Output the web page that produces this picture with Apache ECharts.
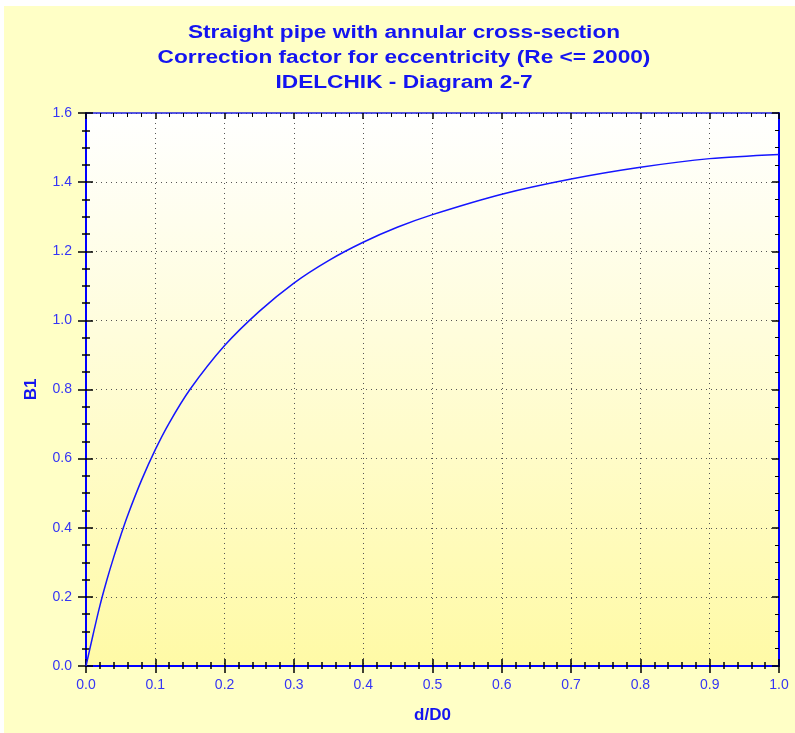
<!DOCTYPE html>
<html>
<head>
<meta charset="utf-8">
<script src="https://cdn.jsdelivr.net/npm/echarts@6/dist/echarts.min.js"></script>
<style>
html,body{margin:0;padding:0;background:#ffffff;width:795px;height:733px;overflow:hidden;}
#chart{position:absolute;left:4px;top:6px;width:791px;height:727px;background:#FFFFC6;}
</style>
</head>
<body>
<div id="chart"></div>
<script>
// d/D0 values
const xValues = [0, 0.01, 0.02, 0.03, 0.04, 0.05, 0.06, 0.08, 0.1, 0.12, 0.15, 0.2, 0.25, 0.3, 0.35, 0.4, 0.45, 0.5, 0.6, 0.7, 0.8, 0.9, 1.0];
// B1 values
const b1Values = [0, 0.089, 0.174, 0.248, 0.315, 0.377, 0.435, 0.537, 0.626, 0.703, 0.800, 0.927, 1.026, 1.108, 1.173, 1.226, 1.270, 1.306, 1.365, 1.409, 1.443, 1.468, 1.480];
const titleLines = ["Straight pipe with annular cross-section", "Correction factor for eccentricity (Re <= 2000)", "IDELCHIK - Diagram 2-7"];
const xAxisName = "d/D0";
const yAxisName = "B1";

const chart = echarts.init(document.getElementById('chart'), null, {renderer: 'canvas'});
const blue = '#1414F0';
const labelBlue = '#3535F5';
const font = 'Liberation Sans, Arial, sans-serif';
const gridLine = {show: true, lineStyle: {color: '#555555', width: 1, type: [1, 4]}};

function xa(opts) {
  return Object.assign({
    type: 'value', min: 0, max: 1, interval: 0.1, gridIndex: 0,
    axisLabel: {show: false}, splitLine: {show: false}, axisLine: {show: false},
    axisTick: {show: false}, minorTick: {show: false}
  }, opts);
}
function ya(opts) {
  return Object.assign({
    type: 'value', min: 0, max: 1.6, interval: 0.2, gridIndex: 0,
    axisLabel: {show: false}, splitLine: {show: false}, axisLine: {show: false},
    axisTick: {show: false}, minorTick: {show: false}
  }, opts);
}

const data = xValues.map((x, i) => [x, b1Values[i]]);

const titleGraphics = titleLines.map((t, i) => ({
  type: 'text', x: 400, y: 27 + i * 25, scaleX: 1.26, scaleY: 1,
  style: {text: t, align: 'center', verticalAlign: 'middle',
    font: 'bold 18px ' + font, fill: blue}
}));

chart.setOption({
  animation: false,
  graphic: titleGraphics,
  grid: {
    left: 82, top: 107, width: 693, height: 553, show: true, borderWidth: 0,
    backgroundColor: {type: 'linear', x: 0, y: 0, x2: 0, y2: 1,
      colorStops: [{offset: 0, color: '#FFFFFF'}, {offset: 1, color: '#FFFAA6'}]}
  },
  xAxis: [
    xa({position: 'bottom',
      name: xAxisName, nameLocation: 'middle', nameGap: 41,
      nameTextStyle: {fontFamily: font, fontSize: 17, fontWeight: 'bold', color: blue},
      axisLine: {show: true, onZero: false, lineStyle: {color: '#0000FF', width: 2}},
      axisTick: {show: true, inside: true, length: 7, lineStyle: {color: '#000', width: 1.5}},
      minorTick: {show: true, splitNumber: 5, length: 4, lineStyle: {color: '#000', width: 1.5}},
      splitLine: gridLine,
      axisLabel: {show: true, margin: 12, fontFamily: font, fontSize: 14, color: labelBlue,
        formatter: v => v.toFixed(1)}
    }),
    xa({position: 'bottom',
      axisTick: {show: true, inside: false, length: 7, lineStyle: {color: '#000', width: 1.5}},
      minorTick: {show: true, splitNumber: 5, length: 3, lineStyle: {color: '#000', width: 1.5}}
    }),
    xa({position: 'top',
      axisLine: {show: true, onZero: false, lineStyle: {color: '#2020E0', width: 1.5}},
      axisTick: {show: true, inside: true, length: 6, lineStyle: {color: '#000', width: 1.5}},
      minorTick: {show: true, splitNumber: 5, length: 4, lineStyle: {color: '#000', width: 1}}
    })
  ],
  yAxis: [
    ya({position: 'left',
      name: yAxisName, nameLocation: 'middle', nameGap: 46,
      nameTextStyle: {fontFamily: font, fontSize: 17, fontWeight: 'bold', color: blue},
      axisLine: {show: true, onZero: false, lineStyle: {color: '#0000FF', width: 2}},
      axisTick: {show: true, inside: true, length: 7, lineStyle: {color: '#000', width: 1.5}},
      minorTick: {show: true, splitNumber: 4, length: 4, lineStyle: {color: '#000', width: 1.5}},
      splitLine: gridLine,
      axisLabel: {show: true, margin: 14, fontFamily: font, fontSize: 14, color: labelBlue,
        formatter: v => v.toFixed(1)}
    }),
    ya({position: 'left',
      axisTick: {show: true, inside: false, length: 8, lineStyle: {color: '#000', width: 1.5}},
      minorTick: {show: true, splitNumber: 4, length: 4, lineStyle: {color: '#000', width: 1.5}}
    }),
    ya({position: 'right',
      axisLine: {show: true, onZero: false, lineStyle: {color: '#0000FF', width: 2}},
      axisTick: {show: true, inside: true, length: 7, lineStyle: {color: '#000', width: 1.5}},
      minorTick: {show: true, splitNumber: 4, length: 4, lineStyle: {color: '#000', width: 1}}
    })
  ],
  series: [{
    type: 'line', xAxisIndex: 0, yAxisIndex: 0,
    data: data, smooth: 0.3, showSymbol: false,
    lineStyle: {color: '#1515FF', width: 1.5}, z: 5
  }]
});
</script>
</body>
</html>
